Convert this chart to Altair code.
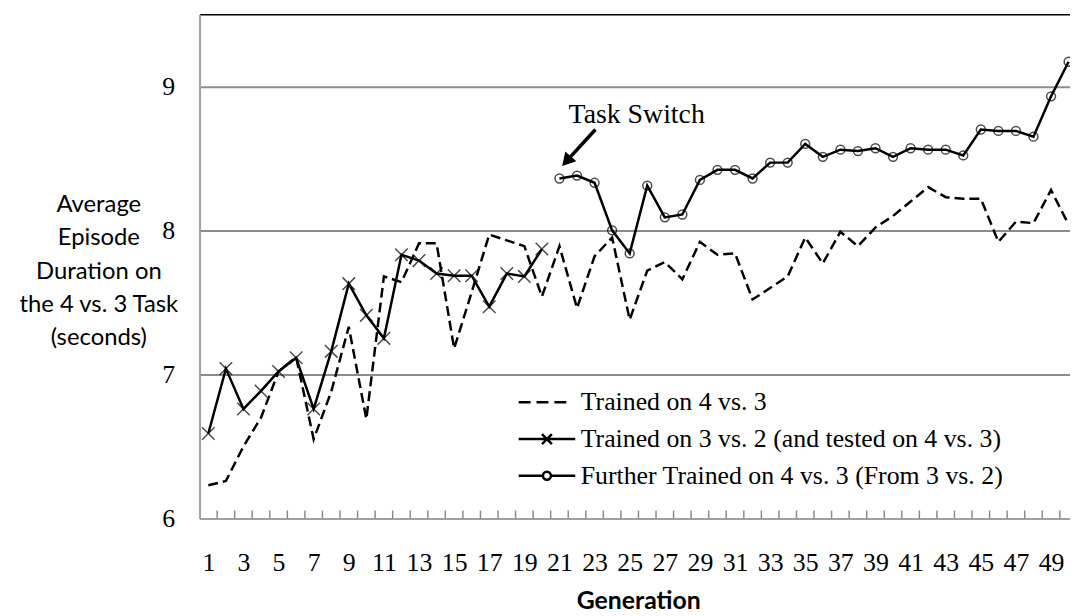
import altair as alt
import pandas as pd

# ---------------- data ----------------
gens = list(range(1, 51))
trained_4v3 = [6.23, 6.26, 6.50, 6.70, 7.02, 7.12, 6.55, 6.88, 7.33, 6.69,
               7.68, 7.64, 7.91, 7.91, 7.18, 7.57, 7.97, 7.93, 7.89, 7.54,
               7.89, 7.46, 7.82, 7.95, 7.38, 7.72, 7.78, 7.66, 7.92, 7.83,
               7.84, 7.52, 7.60, 7.68, 7.95, 7.77, 7.99, 7.89, 8.02, 8.10,
               8.20, 8.30, 8.23, 8.22, 8.22, 7.92, 8.06, 8.05, 8.28, 8.04]
gens_3v2 = list(range(1, 21))
trained_3v2 = [6.59, 7.04, 6.76, 6.885, 7.02, 7.115, 6.76, 7.16, 7.63, 7.41,
               7.25, 7.83, 7.79, 7.70, 7.685, 7.685, 7.47, 7.70, 7.68, 7.87]
gens_further = list(range(21, 51))
further = [8.36, 8.38, 8.33, 8.00, 7.84, 8.31, 8.09, 8.11, 8.35, 8.42,
           8.42, 8.36, 8.47, 8.47, 8.60, 8.51, 8.56, 8.55, 8.57, 8.51,
           8.57, 8.56, 8.56, 8.52, 8.70, 8.69, 8.69, 8.65, 8.93, 9.17]

series_names = ["Trained on 4 vs. 3",
                "Trained on 3 vs. 2 (and tested on 4 vs. 3)",
                "Further Trained on 4 vs. 3 (From 3 vs. 2)"]
x_label_values = list(range(1, 50, 2))
y_tick_values = [6, 7, 8, 9]
y_title_lines = ["Average", "Episode", "Duration on", "the 4 vs. 3 Task", "(seconds)"]
tick_bounds = [g + 0.5 for g in gens[:-1]]

annot_label = ["Task Switch"]
annot_label_gen = [25.4]
annot_label_val = [8.747]
arrow_tail_gen, arrow_tail_val = [23.05], [8.70]
arrow_head_gen, arrow_head_val = [21.4], [8.48]

# ---------------- tables ----------------
df = pd.concat([
    pd.DataFrame({"gen": gens, "value": trained_4v3, "series": series_names[0]}),
    pd.DataFrame({"gen": gens_3v2, "value": trained_3v2, "series": series_names[1]}),
    pd.DataFrame({"gen": gens_further, "value": further, "series": series_names[2]}),
], ignore_index=True)
ticks_df = pd.DataFrame({"b": tick_bounds})
text_df = pd.DataFrame({"label": annot_label, "gen": annot_label_gen, "value": annot_label_val})
arrow_df = pd.DataFrame({"gen": arrow_tail_gen, "value": arrow_tail_val,
                         "gen2": arrow_head_gen, "value2": arrow_head_val})

SERIF = "Liberation Serif"
SANS = "Lato"
GRID = "#8c8c8c"

xscale = alt.Scale(domain=[0.5, 50.08], nice=False, zero=False)
yscale = alt.Scale(domain=[6, 9.5], nice=False, zero=False)

x_bottom = alt.Axis(values=x_label_values, grid=False, ticks=False, tickSize=0,
                    labelFont=SERIF, labelFontSize=26, labelColor="black",
                    labelPadding=31, labelFlush=False, labelOverlap=False,
                    domainColor="#a0a0a0", domainWidth=2,
                    title="Generation", titleFont=SANS, titleFontSize=25,
                    titleFontWeight="bold", titleColor="black",
                    titleAlign="center", titleBaseline="alphabetic",
                    titleX=442, titleY=91)
y_left = alt.Axis(values=y_tick_values, grid=True, gridColor=GRID, gridWidth=2,
                  ticks=False, tickSize=0, labelFont=SERIF, labelFontSize=26,
                  labelColor="black", labelPadding=25,
                  domainColor="#a0a0a0", domainWidth=2,
                  title=y_title_lines, titleFont=SANS, titleFontSize=24,
                  titleFontWeight="normal", titleColor="black", titleAngle=0,
                  titleAlign="center", titleBaseline="alphabetic",
                  titleLineHeight=33.5, titleX=-102, titleY=199)


def Y(field):
    return alt.Y(field, scale=yscale, axis=y_left)


tick_rules = alt.Chart(ticks_df).mark_rule(color=GRID, strokeWidth=1.5).encode(
    x=alt.X("b:Q", scale=xscale, axis=None),
    y=alt.Y(datum=6, scale=yscale, axis=y_left),
    y2=alt.Y2(datum=6.055),
)

dashed = alt.Chart(df).transform_filter(
    alt.datum.series == series_names[0]
).mark_line(color="black", strokeWidth=2.5, strokeDash=[10, 5], clip=True).encode(
    x=alt.X("gen:Q", scale=xscale, axis=x_bottom),
    y=Y("value:Q"),
)

solid = alt.Chart(df).transform_filter(
    alt.datum.series != series_names[0]
).mark_line(color="black", strokeWidth=2.5, clip=True).encode(
    x=alt.X("gen:Q", scale=xscale, axis=None),
    y=Y("value:Q"),
    detail="series:N",
)

x_marks = alt.Chart(df).transform_filter(
    alt.datum.series == series_names[1]
).mark_point(shape="M-1,-1L1,1M-1,1L1,-1", size=160, filled=False,
             color="black", strokeWidth=1.5, clip=True).encode(
    x=alt.X("gen:Q", scale=xscale, axis=None),
    y=Y("value:Q"),
)

o_marks = alt.Chart(df).transform_filter(
    alt.datum.series == series_names[2]
).mark_point(shape="circle", size=80, filled=False, color="black",
             strokeWidth=1.5, clip=True).encode(
    x=alt.X("gen:Q", scale=xscale, axis=None),
    y=Y("value:Q"),
)

# legend symbols: paths drawn in units of 10 px (symbolSize 20*20)
legend_paths = [
    "M-2.85,0H-1.65M-1.05,0H0.15M0.75,0H1.95",
    "M-2.85,0H2.85M-0.5,-0.5L0.5,0.5M-0.5,0.5L0.5,-0.5",
    "M-2.85,0H-0.4M0.4,0H2.85M-0.4,0A0.4,0.4 0 1,1 0.4,0A0.4,0.4 0 1,1 -0.4,0",
]
legend_layer = alt.Chart(df).transform_filter(
    alt.datum.gen < 0
).mark_point(filled=False, color="black", strokeWidth=2.5).encode(
    x=alt.X("gen:Q", scale=xscale,
            axis=alt.Axis(orient="top", labels=False, ticks=False, tickSize=0,
                          grid=False, domainColor="black", domainWidth=1.5,
                          title=None)),
    y=Y("value:Q"),
    shape=alt.Shape("series:N",
                    scale=alt.Scale(domain=series_names, range=legend_paths),
                    legend=alt.Legend(orient="none", legendX=337, legendY=378,
                                      title=None, symbolSize=400,
                                      symbolStrokeWidth=2.5,
                                      symbolStrokeColor="black",
                                      symbolFillColor="transparent",
                                      symbolOpacity=1,
                                      labelFont=SERIF, labelFontSize=26,
                                      labelColor="black", labelOffset=21,
                                      labelLimit=600, rowPadding=11,
                                      padding=0)),
)

arrow_shaft = alt.Chart(arrow_df).mark_rule(color="black", strokeWidth=3.5).encode(
    x=alt.X("gen:Q", scale=xscale, axis=None),
    x2="gen2:Q",
    y=Y("value:Q"),
    y2="value2:Q",
)
arrow_head = alt.Chart(arrow_df).mark_point(shape="triangle-up", size=225,
                                            filled=True, color="black",
                                            opacity=1, angle=222).encode(
    x=alt.X("gen2:Q", scale=xscale, axis=None),
    y=Y("value2:Q"),
)
annot = alt.Chart(text_df).mark_text(font=SERIF, fontSize=28, color="black",
                                     align="center", baseline="alphabetic").encode(
    x=alt.X("gen:Q", scale=xscale, axis=None),
    y=Y("value:Q"),
    text="label:N",
)

chart = alt.layer(
    tick_rules, dashed, solid, x_marks, o_marks, legend_layer,
    arrow_shaft, arrow_head, annot,
).resolve_axis(x="independent").properties(
    width=877, height=508,
    autosize=alt.AutoSizeParams(type="none"),
    padding={"left": 193, "top": 4, "right": 0, "bottom": 96},
).configure_view(stroke=None)

chart.save("out.html", embed_options={"renderer": "svg", "actions": False})
